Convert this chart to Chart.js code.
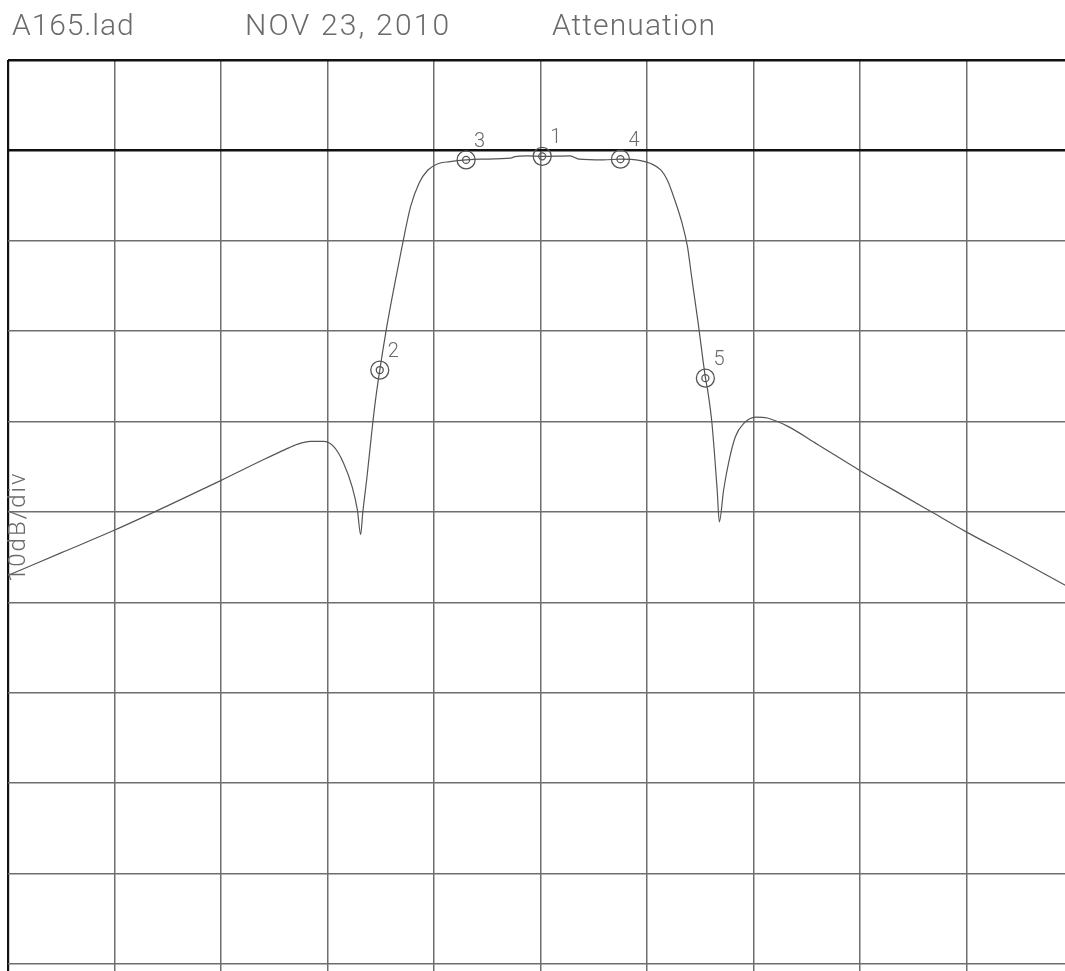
<!DOCTYPE html>
<html>
<head>
<meta charset="utf-8">
<script src="https://cdn.jsdelivr.net/npm/chart.js@4.4.1/dist/chart.umd.min.js"></script>
<style>
  html, body { margin: 0; padding: 0; background: #fff; overflow: hidden; width: 1065px; height: 971px; }
  /* the plot runs past the right and bottom edges of the window, so the canvas is a bit larger */
  canvas { display: block; margin-left: -2px; }
</style>
</head>
<body>
<canvas id="att" width="1085" height="985"></canvas>
<script>
// sweep position in divisions (0..10, centre = 5) and attenuation in dB
const traceX = [0.00, 0.50, 1.00, 1.50, 2.00, 2.40, 2.60, 2.72, 2.84, 2.96, 3.06, 3.15, 3.23, 3.28, 3.31,
  3.33, 3.37, 3.42, 3.45, 3.49, 3.55, 3.62, 3.70, 3.78, 3.86, 3.94, 4.03, 4.15, 4.30, 4.44, 4.72, 4.76, 4.87,
  5.02, 5.28, 5.36, 5.59, 5.75, 5.94, 6.03, 6.13, 6.19, 6.25, 6.33, 6.38, 6.42, 6.48, 6.55, 6.57, 6.61, 6.66,
  6.68, 6.72, 6.77, 6.83, 6.91, 7.02, 7.13, 7.32, 7.60, 8.00, 8.38, 8.66, 9.00, 9.48, 9.93];
const traceDb = [-47.0, -44.5, -42.0, -39.3, -36.5, -34.2, -33.1, -32.5, -32.2, -32.2, -32.8, -34.6, -37.2, -39.8, -42.5,
  -40.1, -36.1, -30.6, -27.6, -24.3, -19.9, -15.4, -10.6, -6.2, -3.6, -2.2, -1.5, -1.24, -1.05, -0.97, -0.86, -0.69, -0.61,
  -0.66, -0.61, -0.97, -1.05, -0.97, -1.13, -1.42, -2.16, -3.26, -5.1, -8.05, -10.6, -14.0, -19.0, -25.2, -26.5, -30.1, -37.6,
  -41.1, -37.6, -34.4, -31.7, -30.2, -29.5, -29.6, -30.5, -32.5, -35.4, -38.0, -39.9, -42.2, -45.2, -48.1];

// markers 1..5
const markerIds = ["1", "2", "3", "4", "5"];
const markerX = [5.016, 3.490, 4.301, 5.751, 6.549];
const markerDb = [-0.66, -24.3, -1.05, -0.97, -25.2];

const xTicks = [0, 1, 2, 3, 4, 5, 6, 7, 8, 9, 10];
const yTicks = [10, 0, -10, -20, -30, -40, -50, -60, -70, -80, -90];

const headerTexts = ["A165.lad", "NOV 23, 2010", "Attenuation"];
const scaleLabel = "10dB/div";

let trace = traceX.map((x, i) => ({x: x, y: traceDb[i]}));
let markers = markerX.map((x, i) => ({x: x, y: markerDb[i]}));

const ink = "#555";
const textInk = "#6a6a6a";

// header texts, the 10dB/div label and the marker numbers (canvas sits 2px left of the page)
const textPlugin = {
  id: "plotTexts",
  afterDraw(chart) {
    const ctx = chart.ctx;
    ctx.save();
    ctx.fillStyle = textInk;
    ctx.textBaseline = "alphabetic";
    ctx.font = "300 30px Roboto";
    const hx = [14, 247, 554];
    const gap = ["0.9px", "2.2px", "1.1px"];
    headerTexts.forEach((t, i) => {
      ctx.letterSpacing = gap[i];
      ctx.fillText(t, hx[i], 35);
    });

    // rotated scale label
    ctx.save();
    ctx.translate(27, 582);
    ctx.rotate(-Math.PI / 2);
    ctx.font = "300 24px Roboto";
    ctx.letterSpacing = "2px";
    ctx.fillText(scaleLabel, 0, 0);
    ctx.restore();

    const xs = chart.scales.x, ys = chart.scales.y;
    ctx.letterSpacing = "0px";
    ctx.font = "300 20px Roboto";
    markers.forEach((m, i) => {
      const px = xs.getPixelForValue(m.x);
      const py = ys.getPixelForValue(m.y);
      ctx.fillText(markerIds[i], px + 8, py - 13);
    });
    ctx.restore();
  }
};

new Chart(document.getElementById("att"), {
  type: "line",
  data: {
    datasets: [
      {
        data: trace,
        borderColor: ink,
        borderWidth: 1.2,
        pointRadius: 0,
        fill: false,
        cubicInterpolationMode: "monotone"
      },
      {
        data: markers,
        showLine: false,
        pointRadius: 9,
        pointBorderColor: ink,
        pointBackgroundColor: "rgba(0,0,0,0)",
        pointBorderWidth: 1.3
      },
      {
        data: markers,
        showLine: false,
        pointRadius: 3.5,
        pointBorderColor: ink,
        pointBackgroundColor: "rgba(0,0,0,0)",
        pointBorderWidth: 1.3
      }
    ]
  },
  options: {
    responsive: false,
    animation: false,
    layout: { padding: { left: 0, top: 60, right: 0, bottom: 0 } },
    plugins: { legend: { display: false }, tooltip: { enabled: false } },
    scales: {
      x: {
        type: "linear",
        min: 0,
        max: 10,
        afterBuildTicks: (s) => { s.ticks = xTicks.map(v => ({value: v})); },
        ticks: { display: false },
        border: { display: false },
        grid: {
          drawTicks: false,
          color: (c) => c.tick && c.tick.value === 0 ? "#111" : "#6e6e6e",
          lineWidth: (c) => c.tick && c.tick.value === 0 ? 2.2 : 1.5
        }
      },
      y: {
        type: "linear",
        min: -91.19,
        max: 10,
        afterBuildTicks: (s) => { s.ticks = yTicks.map(v => ({value: v})); },
        ticks: { display: false },
        border: { display: false },
        grid: {
          drawTicks: false,
          color: (c) => c.tick && (c.tick.value === 10 || c.tick.value === 0) ? "#111" : "#6e6e6e",
          lineWidth: (c) => c.tick && (c.tick.value === 10 || c.tick.value === 0) ? 2.4 : 1.5
        }
      }
    }
  },
  plugins: [textPlugin]
});
</script>
</body>
</html>
